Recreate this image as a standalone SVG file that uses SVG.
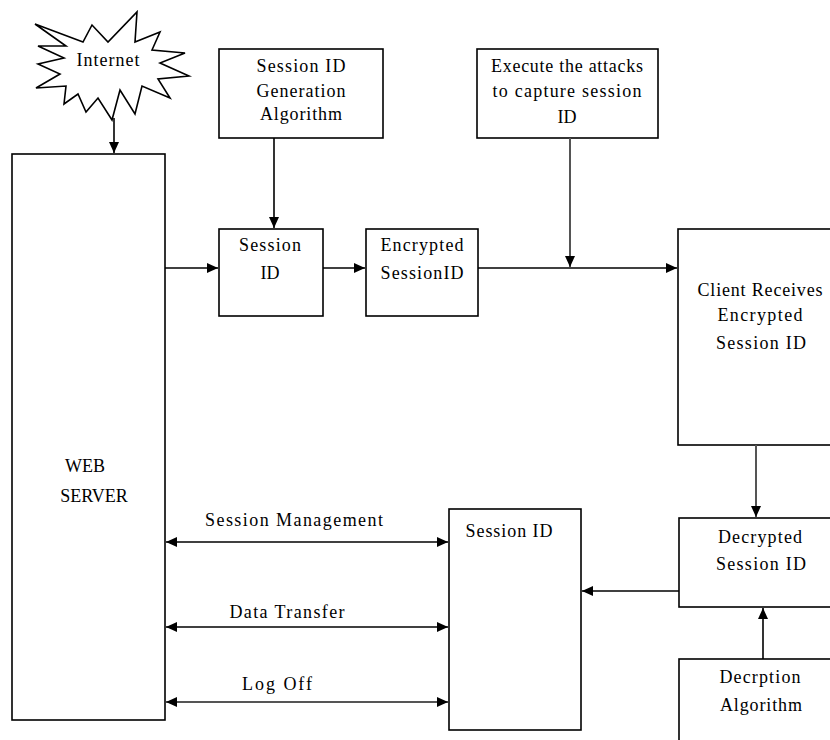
<svg xmlns="http://www.w3.org/2000/svg" width="830" height="740" viewBox="0 0 830 740">
<defs>
<marker id="ah" markerUnits="userSpaceOnUse" markerWidth="12" markerHeight="10" refX="11" refY="5" orient="auto-start-reverse"><path d="M0,0 L11,5 L0,10 z" fill="#000"/></marker>
</defs>
<style>
.box{fill:#fff;stroke:#000;stroke-width:1.6}
.t{font-family:"Liberation Serif","Times New Roman",serif;font-size:18px;fill:#000;text-anchor:middle}
.c{fill:none;stroke:#000;stroke-width:1.6}
.g{fill:none;stroke:#555;stroke-width:2}
</style>
<rect width="830" height="740" fill="#fff"/>
<g id="internet">
<polygon class="box" points="35,24 83,42 92,25 108,42 137,12 135,42 160,32 152,50 185,53 160,63 189,76 158,79 170,98 142,86 135,114 120,90 112,120 98,98 86,112 78,94 64,104 66,86 36,88 60,74 38,64 64,58 38,46 66,46"/>
<text class="t" x="108" y="66" textLength="63" lengthAdjust="spacing">Internet</text>
</g>
<g id="webserver">
<rect class="box" x="12" y="154" width="153" height="566"/>
<text class="t" x="85" y="472">WEB</text>
<text class="t" x="94" y="502">SERVER</text>
</g>
<g id="genalg">
<rect class="box" x="219" y="49" width="164" height="89"/>
<text class="t" x="301" y="72" textLength="89" lengthAdjust="spacing">Session ID</text>
<text class="t" x="301" y="97" textLength="89" lengthAdjust="spacing">Generation</text>
<text class="t" x="301" y="120" textLength="82" lengthAdjust="spacing">Algorithm</text>
</g>
<g id="sessionid1">
<rect class="box" x="219" y="229" width="104" height="87"/>
<text class="t" x="270" y="251" textLength="62" lengthAdjust="spacing">Session</text>
<text class="t" x="270" y="279">ID</text>
</g>
<g id="encrypted">
<rect class="box" x="366" y="229" width="112" height="87"/>
<text class="t" x="422" y="251" textLength="83" lengthAdjust="spacing">Encrypted</text>
<text class="t" x="422" y="279" textLength="83" lengthAdjust="spacing">SessionID</text>
</g>
<g id="attacks">
<rect class="box" x="477" y="49" width="181" height="89"/>
<text class="t" x="567" y="72" textLength="152" lengthAdjust="spacing">Execute the attacks</text>
<text class="t" x="567" y="97" textLength="149" lengthAdjust="spacing">to capture session</text>
<text class="t" x="567" y="123">ID</text>
</g>
<g id="client">
<rect class="box" x="678" y="229" width="160" height="216"/>
<text class="t" x="760" y="296" textLength="125" lengthAdjust="spacing">Client Receives</text>
<text class="t" x="760" y="321" textLength="85" lengthAdjust="spacing">Encrypted</text>
<text class="t" x="761" y="349" textLength="90" lengthAdjust="spacing">Session ID</text>
</g>
<g id="decrypted">
<rect class="box" x="679" y="518" width="160" height="89"/>
<text class="t" x="760" y="543" textLength="84" lengthAdjust="spacing">Decrypted</text>
<text class="t" x="761" y="570" textLength="90" lengthAdjust="spacing">Session ID</text>
</g>
<g id="decalg">
<rect class="box" x="679" y="659" width="160" height="100"/>
<text class="t" x="760" y="683" textLength="81" lengthAdjust="spacing">Decrption</text>
<text class="t" x="761" y="711" textLength="82" lengthAdjust="spacing">Algorithm</text>
</g>
<g id="sessionid2">
<rect class="box" x="449" y="509" width="132" height="221"/>
<text class="t" x="509" y="537" textLength="87" lengthAdjust="spacing">Session ID</text>
</g>
<g id="connectors">
<line class="c" x1="114" y1="118" x2="114" y2="153" marker-end="url(#ah)"/>
<line class="c" x1="274" y1="138" x2="274" y2="228" marker-end="url(#ah)"/>
<line class="c" x1="165" y1="268" x2="218" y2="268" marker-end="url(#ah)"/>
<line class="c" x1="323" y1="268" x2="365" y2="268" marker-end="url(#ah)"/>
<line class="c" x1="478" y1="268" x2="677" y2="268" marker-end="url(#ah)"/>
<line class="g" x1="570" y1="138" x2="570" y2="267" marker-end="url(#ah)"/>
<line class="g" x1="756" y1="445" x2="756" y2="517" marker-end="url(#ah)"/>
<line class="c" x1="679" y1="591" x2="582" y2="591" marker-end="url(#ah)"/>
<line class="c" x1="763" y1="659" x2="763" y2="608" marker-end="url(#ah)"/>
<line class="c" x1="166" y1="542" x2="448" y2="542" marker-start="url(#ah)" marker-end="url(#ah)"/>
<line class="c" x1="166" y1="627" x2="448" y2="627" marker-start="url(#ah)" marker-end="url(#ah)"/>
<line class="g" x1="166" y1="702" x2="448" y2="702" marker-start="url(#ah)" marker-end="url(#ah)"/>
<text class="t" x="294" y="526" textLength="178" lengthAdjust="spacing">Session Management</text>
<text class="t" x="287" y="618" textLength="115" lengthAdjust="spacing">Data Transfer</text>
<text class="t" x="277" y="690" textLength="70" lengthAdjust="spacing">Log Off</text>
</g>
</svg>
